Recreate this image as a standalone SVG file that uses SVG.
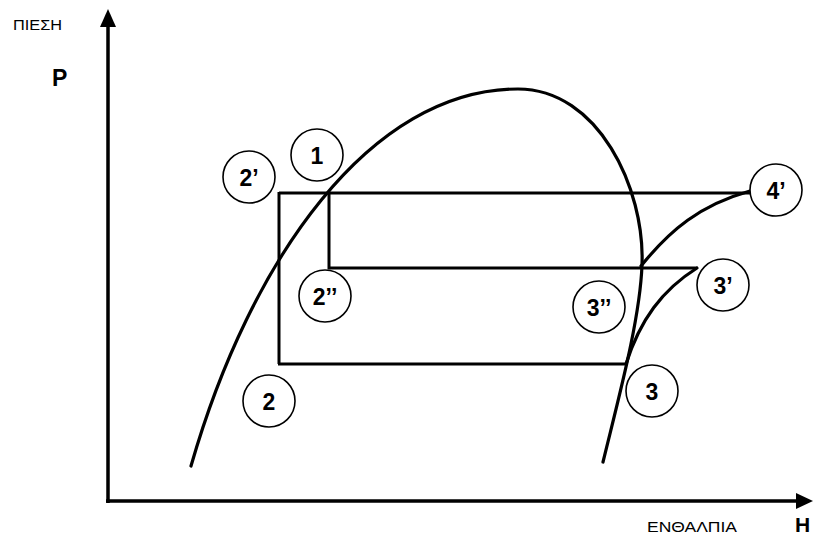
<svg xmlns="http://www.w3.org/2000/svg" width="813" height="537" viewBox="0 0 813 537">
<style>
.ax{stroke:#000;stroke-width:3.5;fill:none}
.cv{stroke:#000;stroke-width:3.2;fill:none;stroke-linecap:round}
.ln{stroke:#000;stroke-width:3;fill:none}
.nc{fill:#fff;stroke:#000;stroke-width:1.6}
.nt{font-family:"Liberation Sans",Arial,sans-serif;font-weight:bold;font-size:23px;text-anchor:middle;fill:#000}
.lb{font-family:"Liberation Sans",Arial,sans-serif;font-size:15.5px;fill:#000}
.bl{font-family:"Liberation Sans",Arial,sans-serif;font-weight:bold;font-size:23px;fill:#000}
</style>
<rect width="813" height="537" fill="#fff"/>
<g id="axes">
<path class="ax" d="M108,503 V24 M106,501 H798"/>
<polygon points="108,9 100,27 116,27" fill="#000"/>
<polygon points="813,501 796,493 796,509" fill="#000"/>
<text class="lb" x="13" y="29.5" textLength="49" lengthAdjust="spacingAndGlyphs">ΠΙΕΣΗ</text>
<text class="bl" x="52" y="86">P</text>
<text class="lb" x="647" y="532" textLength="90" lengthAdjust="spacingAndGlyphs">ΕΝΘΑΛΠΙΑ</text>
<text class="bl" x="795" y="532" style="font-size:21px">H</text>
</g>
<g id="connectors">
<path class="cv" d="M191,466 C250,260 370,89 518,89 C598,89 645,188 642,265 C640,320 618,400 603,462"/>
<path class="ln" d="M279,193 H750 M279,192 V364 M278,364 H626 M329,193 V268 H697"/>
<path class="cv" d="M626,364 C640,320 662,290 697,268"/>
<path class="cv" d="M641,266 C670,230 700,205 750,191"/>
</g>
<g id="n1"><circle class="nc" cx="317" cy="155" r="26"/><text class="nt" x="317" y="164">1</text></g>
<g id="n2p"><circle class="nc" cx="249" cy="177" r="26"/><text class="nt" x="249" y="186">2’</text></g>
<g id="n2pp"><circle class="nc" cx="325" cy="296" r="26"/><text class="nt" x="325" y="305">2’’</text></g>
<g id="n2"><circle class="nc" cx="269" cy="401" r="26"/><text class="nt" x="269" y="410">2</text></g>
<g id="n3pp"><circle class="nc" cx="599" cy="307" r="26"/><text class="nt" x="599" y="316">3’’</text></g>
<g id="n3"><circle class="nc" cx="652" cy="391" r="26"/><text class="nt" x="652" y="400">3</text></g>
<g id="n3p"><circle class="nc" cx="723" cy="285" r="26"/><text class="nt" x="723" y="294">3’</text></g>
<g id="n4p"><circle class="nc" cx="776" cy="190" r="26"/><text class="nt" x="776" y="199">4’</text></g>
</svg>
